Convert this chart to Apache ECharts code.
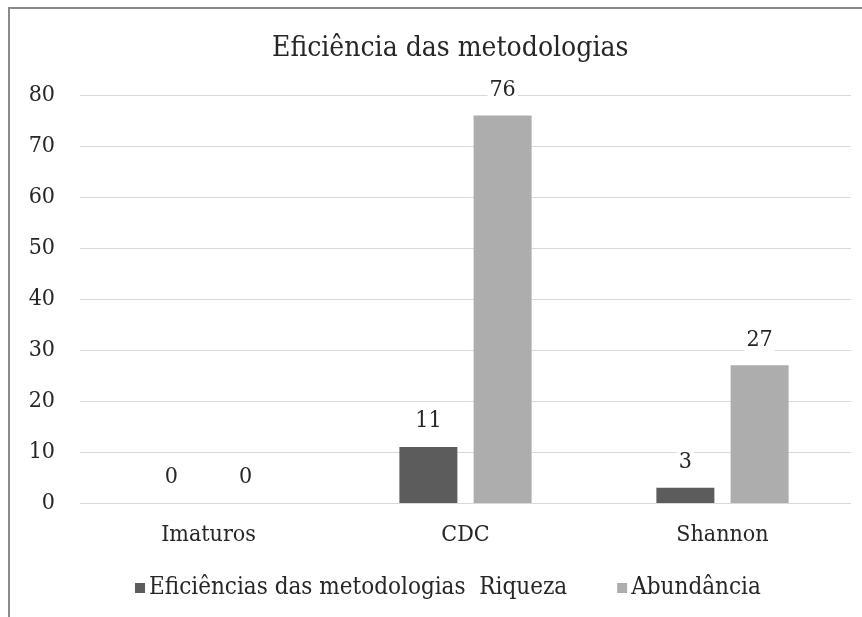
<!DOCTYPE html>
<html><head><meta charset="utf-8">
<script src="https://cdn.jsdelivr.net/npm/echarts@6/dist/echarts.min.js"></script>
<style>html,body{margin:0;padding:0;background:#fff}#c{width:862px;height:617px}</style>
</head><body><div id="c"></div>
<script>
const categories = ["Imaturos", "CDC", "Shannon"];
const riqueza = [0, 11, 3];
const abundancia = [0, 76, 27];
const seriesNames = ["Eficiências das metodologias  Riqueza", "Abundância"];
const yTicks = { min: 0, max: 80, interval: 10 };

const FONT = "'DejaVu Serif Condensed', 'DejaVu Serif', serif";
const labelStyle = {
  show: true, position: 'top', distance: 14, fontFamily: FONT, fontSize: 23,
  color: '#262626', backgroundColor: '#fff', padding: [0, 2]
};
const chart = echarts.init(document.getElementById('c'));
chart.setOption({
  backgroundColor: '#fff',
  animation: false,
  graphic: [{
    type: 'rect', shape: { x: 9, y: 8, width: 900, height: 700 },
    style: { fill: 'none', stroke: '#8a8a8a', lineWidth: 2 }, silent: true, z: 100
  }],
  title: {
    text: 'Eficiência das metodologias', left: 267, top: 30,
    textStyle: { fontFamily: FONT, fontSize: 28, fontWeight: 'normal', color: '#262626' }
  },
  legend: {
    bottom: 12, left: 130, itemWidth: 10, itemHeight: 10, itemGap: 50,
    icon: 'rect',
    textStyle: { fontFamily: FONT, fontSize: 24, color: '#262626', padding: [0, 0, 0, -1] },
    data: seriesNames
  },
  grid: { left: 80, right: 11, top: 95, bottom: 114, containLabel: false },
  xAxis: {
    type: 'category', data: categories,
    axisLine: { show: false }, axisTick: { show: false },
    axisLabel: { fontFamily: FONT, fontSize: 23, color: '#262626', margin: 21 }
  },
  yAxis: {
    type: 'value', min: yTicks.min, max: yTicks.max, interval: yTicks.interval,
    axisLine: { show: false }, axisTick: { show: false },
    axisLabel: { fontFamily: FONT, fontSize: 23, color: '#262626', margin: 25 },
    splitLine: { lineStyle: { color: '#d9d9d9', width: 1 } }
  },
  series: [
    {
      name: seriesNames[0], type: 'bar', data: riqueza, barWidth: 58, barGap: '28%',
      itemStyle: { color: '#5c5c5c' }, label: labelStyle
    },
    {
      name: seriesNames[1], type: 'bar', data: abundancia, barWidth: 58,
      itemStyle: { color: '#adadad' }, label: labelStyle
    }
  ]
});
</script></body></html>
